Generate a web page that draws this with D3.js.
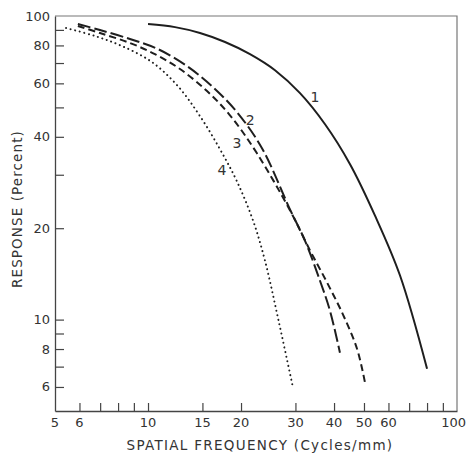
<!DOCTYPE html>
<html>
<head>
<meta charset="utf-8">
<script src="https://cdnjs.cloudflare.com/ajax/libs/d3/7.8.5/d3.min.js"></script>
<style>
  body { margin: 0; background: #fff; }
  svg text { font-family: "DejaVu Sans", "Liberation Sans", sans-serif; fill: #333; }
</style>
</head>
<body>
<div id="chart"></div>
<script>
// response curves (frequency in cycles/mm, response in %)
const freq1 = [10, 12.23, 14.73, 17.75, 21.38, 25.76, 31.04, 37.4, 45.06, 54.28, 65.4, 80];
const resp1 = [94.1, 91.9, 87.9, 82.1, 74.9, 66.3, 55.7, 44.0, 32.5, 22.0, 13.97, 6.89];

const freq2 = [5.93, 6.99, 8.74, 10.77, 13.37, 16.23, 19.41, 23.38, 28.8, 32.2, 36.0, 38.8, 41.8];
const resp2 = [94.1, 89.9, 84.0, 77.8, 68.4, 58.3, 48.2, 36.7, 23.07, 18.2, 13.45, 10.7, 7.78];

const freq3 = [5.93, 6.99, 8.74, 10.53, 12.69, 15.52, 18.42, 22.52, 28.8, 33.44, 37.96, 42.76, 47.47, 50.38];
const resp3 = [92.7, 87.9, 81.5, 74.9, 66.9, 56.6, 47.1, 35.3, 22.9, 16.9, 13.25, 10.39, 8.02, 6.2];

const freq4 = [5.43, 6.74, 8.24, 10.3, 12.5, 14.73, 17.1, 19.41, 21.87, 23.9, 26.54, 29.46];
const resp4 = [91.3, 85.9, 79.6, 70.5, 58.7, 46.8, 36.4, 28.5, 21.2, 15.66, 9.77, 5.97];

const xTicks = [6, 7, 8, 9, 10, 15, 20, 30, 40, 50, 60, 70, 80, 90];
const xLabels = [5, 6, 10, 15, 20, 30, 40, 50, 60, 100];
const yTicks = [6, 7, 8, 9, 10, 20, 30, 40, 50, 60, 70, 80, 90];
const yLabels = [6, 8, 10, 20, 40, 60, 80, 100];

const curveLabels = ['1', '2', '3', '4'];

const width = 467, height = 453;
const svg = d3.select('#chart').append('svg')
    .attr('width', width)
    .attr('height', height);

const x = d3.scaleLog().domain([5, 100]).range([55, 457]);
const y = d3.scaleLog().domain([5, 100]).range([411, 16]);

// frame: top and right sides are lighter in the original
svg.append('path')
    .attr('d', `M${x(5)},${y(100)}H${x(100)}V${y(5)}`)
    .attr('fill', 'none')
    .attr('stroke', '#777')
    .attr('stroke-width', 1.2);

const xAxis = svg.append('g')
    .attr('transform', `translate(0,${y(5)})`)
    .call(d3.axisBottom(x).tickValues(xTicks).tickSizeInner(-8).tickSizeOuter(0).tickFormat(''));
const yAxis = svg.append('g')
    .attr('transform', `translate(${x(5)},0)`)
    .call(d3.axisLeft(y).tickValues(yTicks).tickSizeInner(-9).tickSizeOuter(0).tickFormat(''));

[xAxis, yAxis].forEach(function (a) {
    a.select('.domain').attr('stroke', '#444').attr('stroke-width', 1.3);
    a.selectAll('.tick line').attr('stroke', '#444').attr('stroke-width', 1.2);
});

// the last label sits on the right edge, keep it inside the page
svg.append('g').selectAll('text')
    .data(xLabels)
    .enter().append('text')
    .attr('x', d => d === 100 ? 466 : x(d))
    .attr('y', 427)
    .attr('text-anchor', d => d === 100 ? 'end' : 'middle')
    .attr('font-size', 13)
    .text(d => d);

svg.append('g').selectAll('text')
    .data(yLabels)
    .enter().append('text')
    .attr('x', 50)
    .attr('y', d => y(d) + 4.5)
    .attr('text-anchor', 'end')
    .attr('font-size', 13)
    .text(d => d);

svg.append('text')
    .attr('x', 260)
    .attr('y', 450)
    .attr('text-anchor', 'middle')
    .attr('font-size', 13.5)
    .attr('letter-spacing', 1.3)
    .text('SPATIAL  FREQUENCY (Cycles/mm)');

svg.append('text')
    .attr('transform', 'translate(22,209) rotate(-90)')
    .attr('text-anchor', 'middle')
    .attr('font-size', 13.5)
    .attr('letter-spacing', 1.1)
    .text('RESPONSE (Percent)');

// curves
const line = d3.line()
    .x(d => x(d[0]))
    .y(d => y(d[1]))
    .curve(d3.curveCatmullRom);

const series = [
    { f: freq1, r: resp1, dash: null },
    { f: freq2, r: resp2, dash: '13 4' },
    { f: freq3, r: resp3, dash: '7 4' },
    { f: freq4, r: resp4, dash: '0.1 4.6' }
];

series.forEach(function (s, i) {
    svg.append('path')
        .datum(d3.zip(s.f, s.r))
        .attr('d', line)
        .attr('fill', 'none')
        .attr('stroke', '#1e1e1e')
        .attr('stroke-width', 2)
        .attr('stroke-linecap', i === 3 ? 'round' : 'butt')
        .attr('stroke-dasharray', s.dash);
});

// curve numbers placed next to each line
const labelAt = [[34.7, 54.0], [21.4, 45.4], [19.4, 38.1], [17.36, 31.0]];
svg.append('g').selectAll('text')
    .data(curveLabels)
    .enter().append('text')
    .attr('x', (d, i) => x(labelAt[i][0]))
    .attr('y', (d, i) => y(labelAt[i][1]) + 5)
    .attr('text-anchor', 'middle')
    .attr('font-size', 14)
    .text(d => d);
</script>
</body>
</html>
